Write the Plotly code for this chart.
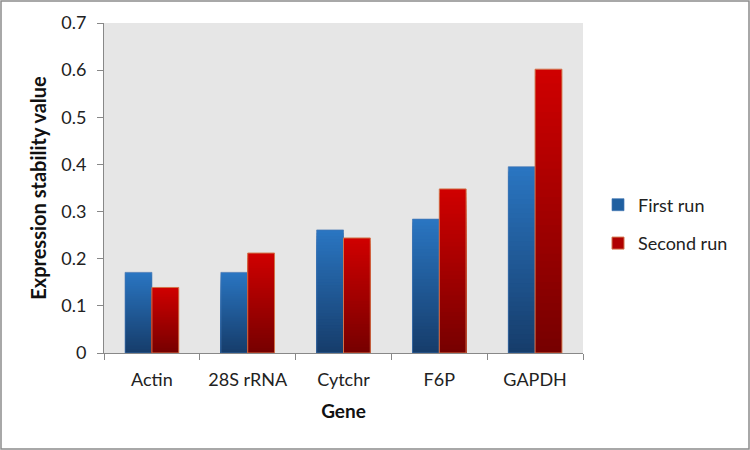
import plotly.graph_objects as go

genes = ["Actin", "28S rRNA", "Cytchr", "F6P", "GAPDH"]
first_run = [0.171, 0.171, 0.261, 0.284, 0.395]
second_run = [0.139, 0.212, 0.244, 0.348, 0.602]
series_names = ["First run", "Second run"]
y_ticks = [0, 0.1, 0.2, 0.3, 0.4, 0.5, 0.6, 0.7]

W, H = 750, 450
ML, MR, MT, MB = 104, 167, 23, 97
PW, PH = W - ML - MR, H - MT - MB

FONT = "Lato, 'Open Sans', sans-serif"

def lerp(c1, c2, t):
    return "rgb(%d,%d,%d)" % tuple(round(a + (b - a) * t) for a, b in zip(c1, c2))

styles = [
    {"top": (42, 118, 194), "bottom": (22, 60, 106), "mid": "#1f5fa0", "line": "rgba(70,120,180,0.7)"},
    {"top": (208, 0, 0), "bottom": (118, 0, 0), "mid": "#b00000", "line": "#d2734a"},
]

fig = go.Figure()
N = 40
for s_idx, (name, vals) in enumerate(zip(series_names, [first_run, second_run])):
    st = styles[s_idx]
    og = "g%d" % s_idx
    # overlapping bars from zero: tallest (brightest) first, shorter darker ones on top
    for i in range(N):
        frac = 1 - i / N
        t = frac - 0.5 / N
        fig.add_trace(go.Bar(
            x=genes, y=[v * frac for v in vals],
            offsetgroup=og, marker=dict(color=lerp(st["bottom"], st["top"], t), line=dict(width=0)),
            showlegend=False, hoverinfo="skip", legendgroup=og,
        ))
    fig.add_trace(go.Bar(
        x=genes, y=vals, offsetgroup=og, name=name, legendgroup=og,
        marker=dict(color="rgba(0,0,0,0)", line=dict(color=st["line"], width=1)),
        showlegend=False,
    ))
    fig.add_trace(go.Bar(
        x=[genes[0]], y=[None], offsetgroup=og, name=name, legendgroup=og,
        marker=dict(color=st["mid"], line=dict(color=st["line"], width=1)),
        showlegend=True,
    ))

fig.update_layout(
    width=W, height=H,
    margin=dict(l=ML, r=MR, t=MT, b=MB, autoexpand=False),
    paper_bgcolor="white", plot_bgcolor="#e6e6e6",
    barmode="group", bargap=0.44, bargroupgap=0,
    font=dict(family=FONT, size=18, color="#222"),
    legend=dict(x=(598 - ML) / PW, y=(H - 224 - MB) / PH, xanchor="left", yanchor="middle",
                font=dict(size=18, color="#222"), tracegroupgap=12, traceorder="grouped",
                bgcolor="rgba(0,0,0,0)"),
    xaxis=dict(
        title=dict(text="<b>Gene</b>", font=dict(size=19, color="#111"), standoff=16),
        showline=True, linecolor="#888", linewidth=1,
        ticks="outside", ticklen=6, tickcolor="#888", tickson="boundaries",
        ticklabelstandoff=10,
        tickfont=dict(size=18, color="#222"), showgrid=False,
    ),
    yaxis=dict(
        title=dict(text="<b>Expression stability value</b>", font=dict(size=20, color="#111"), standoff=9),
        range=[0, 0.7], tickvals=y_ticks, ticktext=[("%g" % v) for v in y_ticks],
        showline=True, linecolor="#888", linewidth=1,
        ticks="outside", ticklen=6, tickcolor="#888",
        ticklabelstandoff=7,
        tickfont=dict(size=18, color="#222"), showgrid=False, zeroline=False,
    ),
    shapes=[dict(
        type="rect", xref="paper", yref="paper",
        x0=(1 - ML) / PW, x1=(749 - ML) / PW,
        y0=(H - 449 - MB) / PH, y1=(H - 1 - MB) / PH,
        line=dict(color="#8c8c8c", width=1.5), fillcolor="rgba(0,0,0,0)", layer="below",
    )],
)

fig.write_html("out.html", config={"displayModeBar": False},
               post_script="document.body.style.margin='0';document.body.style.overflow='hidden';")
